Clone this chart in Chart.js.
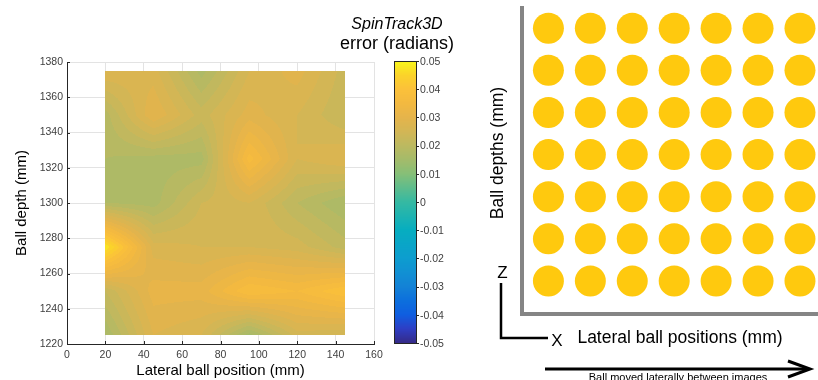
<!DOCTYPE html>
<html><head><meta charset="utf-8">
<script src="https://cdn.jsdelivr.net/npm/chart.js@4/dist/chart.umd.min.js"></script>
<style>
html,body{margin:0;padding:0;background:#fff;width:818px;height:380px;overflow:hidden;}
.box{position:absolute;top:0;}
</style></head><body>
<div class="box" style="left:0;width:480px;height:380px"><canvas id="left" width="480" height="380"></canvas></div>
<div class="box" style="left:480px;width:338px;height:380px"><canvas id="right" width="338" height="380"></canvas></div>
<script>
// ---------- data ----------
const lateralPositions = [20, 45, 70, 95, 120, 145];           // mm
const ballDepths = [1225, 1250, 1275, 1300, 1325, 1350, 1375]; // mm
// SpinTrack3D error (radians); one row per depth (bottom to top), one column per lateral position
const errRow1225 = [0.016, 0.028, 0.026, 0.015, 0.025, 0.024];
const errRow1250 = [0.022, 0.031, 0.031, 0.038, 0.036, 0.040];
const errRow1275 = [0.048, 0.027, 0.026, 0.026, 0.025, 0.021];
const errRow1300 = [0.018, 0.017, 0.024, 0.026, 0.020, 0.016];
const errRow1325 = [0.018, 0.017, 0.017, 0.037, 0.026, 0.028];
const errRow1350 = [0.019, 0.030, 0.023, 0.029, 0.026, 0.022];
const errRow1375 = [0.028, 0.027, 0.017, 0.026, 0.029, 0.023];
const spinError = [errRow1225, errRow1250, errRow1275, errRow1300, errRow1325, errRow1350, errRow1375];

const xTicks = [0, 20, 40, 60, 80, 100, 120, 140, 160];
const yTicks = [1220, 1240, 1260, 1280, 1300, 1320, 1340, 1360, 1380];
const colorTicks = [-0.05, -0.04, -0.03, -0.02, -0.01, 0, 0.01, 0.02, 0.03, 0.04, 0.05];
const colorTickLabels = ['-0.05', '-0.04', '-0.03', '-0.02', '-0.01', '0', '0.01', '0.02', '0.03', '0.04', '0.05'];

const ballColumns = [1, 2, 3, 4, 5, 6, 7];
const ballRows = [1, 2, 3, 4, 5, 6, 7];

// ---------- styles ----------
const FONT = "'Liberation Sans', Arial, Helvetica, sans-serif";
const parulaStops = [
  [-0.05, '#352a87'], [-0.045, '#2e3ec4'], [-0.04, '#0f5ee0'], [-0.035, '#0c6fdd'],
  [-0.03, '#1382d6'], [-0.025, '#1190d3'], [-0.02, '#0d9dcf'], [-0.01, '#06adc0'],
  [0, '#35b9a2'], [0.01, '#86bf77'], [0.015, '#a4bb6a'], [0.02, '#bcb960'],
  [0.025, '#d3b655'], [0.03, '#e5b44b'], [0.035, '#f3b940'], [0.04, '#fbc13a'],
  [0.045, '#fbd32a'], [0.05, '#f8f71a']
];
function hex2rgb(h){return [parseInt(h.slice(1,3),16),parseInt(h.slice(3,5),16),parseInt(h.slice(5,7),16)];}
const stopRGB = parulaStops.map(s => [s[0], hex2rgb(s[1])]);
function cmap(v){
  if (v <= stopRGB[0][0]) return 'rgb(' + stopRGB[0][1].join(',') + ')';
  for (let i = 0; i < stopRGB.length - 1; i++){
    const a = stopRGB[i], b = stopRGB[i+1];
    if (v <= b[0]){
      const t = (v - a[0]) / (b[0] - a[0]);
      const c = a[1].map((x, k) => Math.round(x + (b[1][k] - x) * t));
      return 'rgb(' + c.join(',') + ')';
    }
  }
  return 'rgb(' + stopRGB[stopRGB.length-1][1].join(',') + ')';
}
function findCell(arr, v){
  let i = 0;
  while (i < arr.length - 2 && v > arr[i+1]) i++;
  let t = (v - arr[i]) / (arr[i+1] - arr[i]);
  t = Math.max(0, Math.min(1, t));
  return [i, t];
}
function interpErr(lx, dy){
  const [i, tx] = findCell(lateralPositions, lx);
  const [j, ty] = findCell(ballDepths, dy);
  const a = spinError[j][i], b = spinError[j][i+1], c = spinError[j+1][i], d = spinError[j+1][i+1];
  return (a*(1-tx) + b*tx) * (1-ty) + (c*(1-tx) + d*tx) * ty;
}
const LEVEL = 0.002;

const heatPlugin = {
  id: 'heat',
  beforeDatasetsDraw(chart){
    const ctx = chart.ctx, xs = chart.scales.x, ys = chart.scales.y;
    const x0 = Math.round(xs.getPixelForValue(lateralPositions[0]));
    const x1 = Math.round(xs.getPixelForValue(lateralPositions[lateralPositions.length-1]));
    const y0 = Math.round(ys.getPixelForValue(ballDepths[ballDepths.length-1]));
    const y1 = Math.round(ys.getPixelForValue(ballDepths[0]));
    ctx.save();
    for (let py = y0; py < y1; py++){
      const dv = ys.getValueForPixel(py + 0.5);
      let runStart = x0, runColor = null;
      for (let px = x0; px <= x1; px++){
        let col = null;
        if (px < x1){
          const lv = xs.getValueForPixel(px + 0.5);
          const v = interpErr(lv, dv);
          const q = Math.floor(v / LEVEL) * LEVEL + LEVEL / 2;
          col = cmap(q);
        }
        if (col !== runColor){
          if (runColor){ ctx.fillStyle = runColor; ctx.fillRect(runStart, py, px - runStart, 1); }
          runColor = col; runStart = px;
        }
      }
    }
    // colorbar
    const cs = chart.scales.c;
    const bx = cs.left + 20, bw = 23;
    const top = Math.round(cs.top) - 1, bot = Math.round(cs.bottom) - 1;
    for (let py = top; py < bot; py++){
      ctx.fillStyle = cmap(cs.getValueForPixel(py + 1.5));
      ctx.fillRect(bx, py, bw, 1);
    }
    ctx.strokeStyle = '#262626'; ctx.lineWidth = 1;
    ctx.strokeRect(bx + 0.5, top + 0.5, bw - 1, bot - top);
    ctx.beginPath();
    colorTicks.forEach(v => {
      const p = Math.round(cs.getPixelForValue(v)) - 0.5;
      ctx.moveTo(bx + bw - 1, p); ctx.lineTo(bx + bw + 2, p);
    });
    ctx.stroke();
    // inner ticks on axes
    ctx.beginPath();
    xTicks.forEach(v => { const p = Math.round(xs.getPixelForValue(v)) + 0.5; ctx.moveTo(p, ys.bottom); ctx.lineTo(p, ys.bottom - 3); });
    yTicks.forEach(v => { const p = Math.round(ys.getPixelForValue(v)) + 0.5; ctx.moveTo(xs.left, p); ctx.lineTo(xs.left + 3, p); });
    ctx.stroke();
    // colorbar title
    ctx.fillStyle = '#000';
    ctx.textAlign = 'center'; ctx.textBaseline = 'middle';
    ctx.font = 'italic 16px ' + FONT;
    ctx.fillText('SpinTrack3D', bx + 3, 25);
    ctx.font = '18px ' + FONT;
    ctx.fillText('error (radians)', bx + 3, 44);
    ctx.restore();
  }
};

const gridPoints = [];
ballDepths.forEach((d, j) => lateralPositions.forEach((l, i) => gridPoints.push({x: l, y: d, v: spinError[j][i]})));

new Chart(document.getElementById('left'), {
  type: 'scatter',
  data: { datasets: [{ data: gridPoints, pointRadius: 0, pointHoverRadius: 0, borderWidth: 0 }] },
  options: {
    responsive: false, animation: false, events: [],
    layout: { padding: { left: 0, right: 0, top: 62, bottom: 0 } },
    plugins: { legend: { display: false }, tooltip: { enabled: false } },
    scales: {
      x: {
        type: 'linear', min: 0, max: 160,
        afterBuildTicks: s => { s.ticks = xTicks.map(v => ({ value: v })); },
        ticks: { font: { family: FONT, size: 10.5 }, color: '#404040', padding: 5, maxRotation: 0, callback: v => String(v) },
        grid: { color: '#e3e3e3', drawTicks: false },
        border: { color: '#262626', width: 1 },
        title: { display: true, text: 'Lateral ball position (mm)', font: { family: FONT, size: 15 }, color: '#000', padding: { top: 0, bottom: 0 } },
        afterFit: s => { s.height = 36; }
      },
      y: {
        type: 'linear', min: 1220, max: 1380,
        afterBuildTicks: s => { s.ticks = yTicks.map(v => ({ value: v })); },
        ticks: { font: { family: FONT, size: 10.5 }, color: '#404040', padding: 4, callback: v => String(v) },
        grid: { color: '#e3e3e3', drawTicks: false },
        border: { color: '#262626', width: 1 },
        title: { display: true, text: 'Ball depth (mm)', font: { family: FONT, size: 15 }, color: '#000', padding: { top: 13, bottom: 0 } },
        afterFit: s => { s.width = 67; }
      },
      c: {
        type: 'linear', position: 'right', axis: 'y', min: -0.05, max: 0.05,
        afterBuildTicks: s => { s.ticks = colorTicks.map(v => ({ value: v })); },
        ticks: { font: { family: FONT, size: 10.5 }, color: '#404040', padding: 3,
                 callback: (v) => { const k = colorTicks.findIndex(t => Math.abs(t - v) < 1e-9); return k >= 0 ? colorTickLabels[k] : ''; } },
        grid: { display: true, drawOnChartArea: false, drawTicks: true, tickLength: 43, tickColor: 'rgba(0,0,0,0)', color: 'rgba(0,0,0,0)' },
        border: { display: false },
        afterFit: s => { s.width = 106; }
      }
    }
  },
  plugins: [heatPlugin]
});

// ---------- right diagram ----------
const balls = [];
ballRows.forEach(r => ballColumns.forEach(c => balls.push({ x: c, y: r })));

const diagramPlugin = {
  id: 'diagram',
  afterDraw(chart){
    const ctx = chart.ctx;
    ctx.save();
    ctx.fillStyle = '#000'; ctx.strokeStyle = '#000';
    ctx.textAlign = 'center'; ctx.textBaseline = 'middle';
    ctx.font = '17.5px ' + FONT;
    ctx.save(); ctx.translate(18, 153); ctx.rotate(-Math.PI / 2); ctx.fillText('Ball depths (mm)', 0, 0); ctx.restore();
    ctx.fillText('Lateral ball positions (mm)', 200, 338);
    ctx.font = '17px ' + FONT;
    ctx.fillText('Z', 22.5, 273);
    ctx.fillText('X', 77, 341);
    ctx.lineWidth = 2.5;
    ctx.beginPath(); ctx.moveTo(21, 283); ctx.lineTo(21, 338); ctx.lineTo(68, 338); ctx.stroke();
    ctx.lineWidth = 3;
    ctx.beginPath(); ctx.moveTo(65, 369); ctx.lineTo(329, 369); ctx.stroke();
    ctx.beginPath(); ctx.moveTo(308, 361); ctx.lineTo(330, 369); ctx.lineTo(308, 377); ctx.stroke();
    ctx.font = '11px ' + FONT; ctx.textBaseline = 'top';
    ctx.fillText('Ball moved laterally between images', 198, 372);
    ctx.restore();
  }
};

new Chart(document.getElementById('right'), {
  type: 'bubble',
  data: { datasets: [{ data: balls, radius: 15.5, hoverRadius: 0, backgroundColor: '#ffc90e', borderWidth: 0, clip: false }] },
  options: {
    responsive: false, animation: false, events: [],
    layout: { autoPadding: false, padding: { left: 0, right: 0, top: 8, bottom: 0 } },
    plugins: { legend: { display: false }, tooltip: { enabled: false } },
    scales: {
      x: { type: 'linear', min: 0.37, max: 7.43, ticks: { display: false }, grid: { display: false, drawTicks: false },
           border: { display: true, color: '#858585', width: 4 }, afterFit: s => { s.height = 66; } },
      y: { type: 'linear', min: 0.216, max: 7.48, ticks: { display: false }, grid: { display: false, drawTicks: false },
           border: { display: true, color: '#858585', width: 4 }, afterFit: s => { s.width = 42; } }
    }
  },
  plugins: [diagramPlugin]
});
</script>
</body></html>
